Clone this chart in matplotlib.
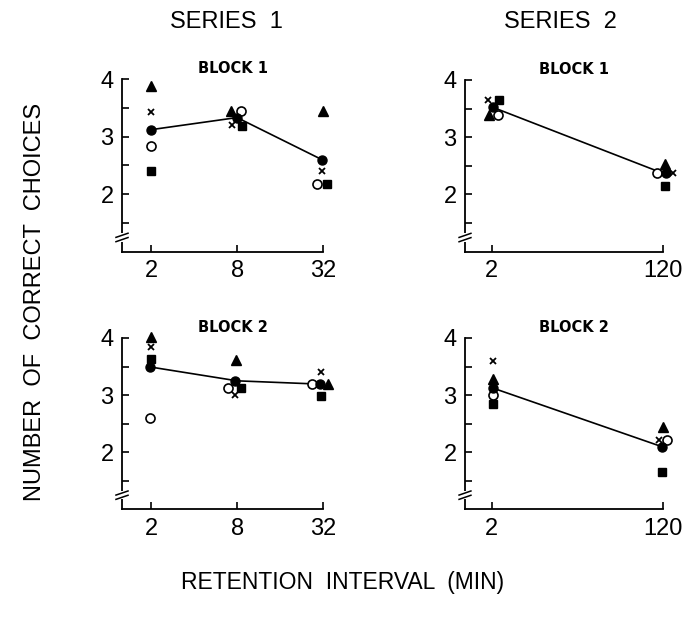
import matplotlib
matplotlib.use("Agg")
import matplotlib.pyplot as plt
import matplotlib.transforms as mtransforms
from matplotlib.lines import Line2D

# ---------------- data ----------------
s1_x = [2, 8, 32]
s2_x = [2, 120]

# Series 1, Block 1
s1b1_mean = [3.12, 3.33, 2.59]
s1b1_open = [2.84, 3.44, 2.17]
s1b1_tri = [3.87, 3.44, 3.45]
s1b1_cross = [3.43, 3.20, 2.40]
s1b1_sq = [2.40, 3.19, 2.17]

# Series 2, Block 1
s2b1_mean = [3.53, 2.37]
s2b1_open = [3.39, 2.37]
s2b1_tri = [3.39, 2.54]
s2b1_cross = [3.65, 2.37]
s2b1_sq = [3.65, 2.15]

# Series 1, Block 2
s1b2_mean = [3.49, 3.25, 3.19]
s1b2_open = [2.60, 3.13, 3.19]
s1b2_tri = [4.02, 3.62, 3.19]
s1b2_cross = [3.85, 3.00, 3.40]
s1b2_sq = [3.64, 3.13, 2.99]

# Series 2, Block 2
s2b2_mean = [3.13, 2.09]
s2b2_open = [3.00, 2.22]
s2b2_tri = [3.28, 2.44]
s2b2_cross = [3.59, 2.22]
s2b2_sq = [2.85, 1.66]

series_titles = ["SERIES  1", "SERIES  2"]
block_titles = ["BLOCK 1", "BLOCK 2"]
y_ticks = [2, 3, 4]
y_minor = [1.5, 2, 2.5, 3, 3.5, 4]

# ---------------- styling ----------------
W, H = 686, 619
fig = plt.figure(figsize=(W / 100, H / 100), dpi=100)
TF = "Liberation Sans"

def frac(left, right, top, bottom):
    return [left / W, 1 - bottom / H, (right - left) / W, (bottom - top) / H]

# marker styles
styles = {
    "mean": dict(marker="o", ms=6.5, mfc="black", mec="black"),
    "open": dict(marker="o", ms=6.5, mfc="white", mec="black", mew=1.2),
    "tri": dict(marker="^", ms=7, mfc="black", mec="black"),
    "cross": dict(marker="x", ms=4.5, mec="black", mew=1.3),
    "sq": dict(marker="s", ms=5.5, mfc="black", mec="black"),
}

# horizontal offsets (pixels) to separate overlapping symbols
offsets = {
    "p1": {"mean": [0, 0, -1], "open": [0, 4, -6], "tri": [0, -6, 0], "cross": [0, -5, -1], "sq": [0, 5, 4]},
    "p2": {"mean": [1, 3], "open": [6, -6], "tri": [-3, 2], "cross": [-4, 10], "sq": [7, 2]},
    "p3": {"mean": [-1, -2, -3], "open": [-1, -9, -11], "tri": [0, -1, 5], "cross": [0, -2, -2], "sq": [0, 4, -2]},
    "p4": {"mean": [1, -1], "open": [1, 4], "tri": [1, 0], "cross": [1, -4], "sq": [1, -1]},
}

panels = [
    ("p1", frac(122, 323, 79, 251.7), s1_x, (1.25, 32),
     dict(mean=s1b1_mean, open=s1b1_open, tri=s1b1_tri, cross=s1b1_cross, sq=s1b1_sq), block_titles[0]),
    ("p2", frac(465, 663, 80, 251.7), s2_x, (1.055, 120),
     dict(mean=s2b1_mean, open=s2b1_open, tri=s2b1_tri, cross=s2b1_cross, sq=s2b1_sq), block_titles[0]),
    ("p3", frac(122, 323, 338, 509.3), s1_x, (1.25, 32),
     dict(mean=s1b2_mean, open=s1b2_open, tri=s1b2_tri, cross=s1b2_cross, sq=s1b2_sq), block_titles[1]),
    ("p4", frac(465, 663, 338, 509.3), s2_x, (1.055, 120),
     dict(mean=s2b2_mean, open=s2b2_open, tri=s2b2_tri, cross=s2b2_cross, sq=s2b2_sq), block_titles[1]),
]

for key, rect, xs, xlim, data, btitle in panels:
    ax = fig.add_axes(rect)
    ax.set_xscale("log", base=2)
    ax.set_xlim(*xlim)
    ax.set_ylim(1.0, 4.0)
    for sp in ["top", "right"]:
        ax.spines[sp].set_visible(False)
    ax.spines["left"].set_linewidth(1.3)
    ax.spines["bottom"].set_linewidth(1.3)
    ax.spines["left"].set_bounds(1.0, 4.0)

    ax.set_yticks(y_minor)
    ax.set_yticklabels([str(int(v)) if v in y_ticks else "" for v in y_minor])
    ax.set_xticks(xs)
    ax.set_xticklabels([str(v) for v in xs])
    ax.xaxis.set_minor_locator(matplotlib.ticker.NullLocator())
    ax.tick_params(axis="both", direction="in", length=5, width=1.2,
                   labelsize=17, pad=6)
    for lab in ax.get_xticklabels() + ax.get_yticklabels():
        lab.set_fontfamily(TF)

    # mean line
    ax.plot(xs, data["mean"], color="black", lw=1.2, zorder=2)
    for name in ["tri", "cross", "sq", "open", "mean"]:
        for i, (xv, yv) in enumerate(zip(xs, data[name])):
            dx = offsets[key][name][i]
            tr = ax.transData + mtransforms.ScaledTranslation(dx / 100, 0, fig.dpi_scale_trans)
            ax.plot([xv], [yv], linestyle="none", transform=tr, zorder=3,
                    clip_on=False, **styles[name])

    ax.text(0.55, 1.02, btitle, transform=ax.transAxes, ha="center", va="bottom",
            fontsize=10.5, fontweight="bold", family="DejaVu Sans")

    # axis break marks on the y spine
    for yy in [0.07, 0.095]:
        ax.add_line(Line2D([-0.03, 0.03], [yy - 0.012, yy + 0.012], transform=ax.transAxes,
                           color="black", lw=1.1, clip_on=False, zorder=5))
    ax.add_patch(matplotlib.patches.Polygon(
        [[-0.004, 0.058], [0.004, 0.058], [0.004, 0.107], [-0.004, 0.107]],
        closed=True, transform=ax.transAxes, facecolor="white", edgecolor="none",
        clip_on=False, zorder=4))

# headers and axis labels
fig.text(226 / W, 1 - 22 / H, series_titles[0], ha="center", va="center", fontsize=17, family=TF)
fig.text(560 / W, 1 - 22 / H, series_titles[1], ha="center", va="center", fontsize=17, family=TF)
fig.text(35 / W, 1 - 302 / H, "NUMBER  OF  CORRECT  CHOICES", rotation=90, ha="center", va="center",
         fontsize=17, family=TF)
fig.text(343 / W, 1 - 583 / H, "RETENTION  INTERVAL  (MIN)", ha="center", va="center",
         fontsize=16.5, family=TF)

fig.savefig("out.png", dpi=100)
